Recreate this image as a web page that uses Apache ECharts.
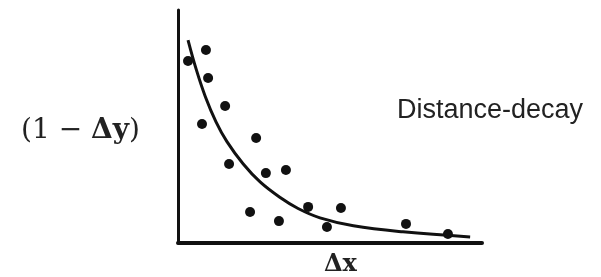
<!DOCTYPE html>
<html>
<head>
<meta charset="utf-8">
<script src="https://cdn.jsdelivr.net/npm/echarts@6/dist/echarts.min.js"></script>
<style>
  html, body { margin: 0; padding: 0; background: #fff; }
  #chart { width: 601px; height: 277px; }
</style>
</head>
<body>
<div id="chart"></div>
<script>
const pointsX = [9.2, 3.3, 9.9, 15.5, 7.9, 25.7, 16.8, 28.9, 35.5, 23.7, 33.2, 42.8, 49.0, 53.6, 75.0, 88.8];
const pointsY = [82.8, 78.1, 70.8, 58.8, 51.1, 45.1, 33.9, 30.0, 31.3, 13.3, 9.4, 15.5, 6.9, 15.0, 8.2, 3.9];

// fitted decay curve
const curveX = [3.3, 6.0, 9.0, 12.5, 16.1, 21.4, 27.0, 33.6, 39.5, 46.7, 57.7, 74.0, 96.1];
const curveY = [87.1, 74.5, 62.8, 52.0, 43.5, 34.0, 26.2, 19.5, 14.8, 10.8, 7.4, 4.8, 2.6];

const chart = echarts.init(document.getElementById('chart'));

const serif = '"DejaVu Serif", "Liberation Serif", serif';

const option = {
    animation: false,
    grid: { left: 178, right: 119, top: 10, bottom: 34 },
    xAxis: {
        type: 'value',
        min: 0,
        max: 100,
        axisLine: { show: true, lineStyle: { color: '#111', width: 4 } },
        axisTick: { show: false },
        axisLabel: { show: false },
        splitLine: { show: false }
    },
    yAxis: {
        type: 'value',
        min: 0,
        max: 100,
        axisLine: { show: true, lineStyle: { color: '#111', width: 3 } },
        axisTick: { show: false },
        axisLabel: { show: false },
        splitLine: { show: false }
    },
    series: [
        {
            type: 'scatter',
            data: pointsX.map((x, i) => [x, pointsY[i]]),
            symbolSize: 10,
            itemStyle: { color: '#111', opacity: 1 },
            z: 3
        },
        {
            type: 'line',
            data: curveX.map((x, i) => [x, curveY[i]]),
            smooth: 0.4,
            showSymbol: false,
            lineStyle: { color: '#111', width: 3 },
            z: 2
        }
    ],
    graphic: [
        {
            type: 'text',
            left: 21,
            top: 117,
            style: {
                text: '{n|(1 − }{b|Δy}{n|)}',
                rich: {
                    n: { fontFamily: serif, fontSize: 28, fill: '#222' },
                    b: { fontFamily: serif, fontSize: 28, fontWeight: 'bold', fill: '#222' }
                }
            }
        },
        {
            type: 'text',
            left: 324,
            top: 253,
            style: {
                text: 'Δx',
                fontFamily: serif,
                fontSize: 24,
                fontWeight: 'bold',
                fill: '#222'
            }
        },
        {
            type: 'text',
            left: 397,
            top: 97,
            style: {
                text: 'Distance-decay',
                fontFamily: '"Liberation Sans", Arial, sans-serif',
                fontSize: 27,
                fill: '#222'
            }
        }
    ]
};

chart.setOption(option);
</script>
</body>
</html>
